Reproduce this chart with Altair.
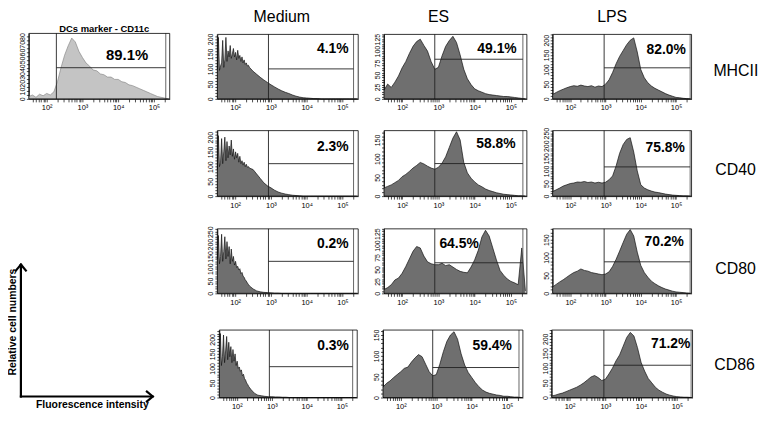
import altair as alt
import pandas as pd

# ---------------- data ----------------
EXPONENTS = [1.5, 1.6, 1.7, 1.8, 1.9, 2.0, 2.1, 2.2, 2.3, 2.4,
             2.5, 2.6, 2.7, 2.8, 2.9, 3.0, 3.1, 3.2, 3.3, 3.4,
             3.5, 3.6, 3.7, 3.8, 3.9, 4.0, 4.1, 4.2, 4.3, 4.4,
             4.5, 4.6, 4.7, 4.8, 4.9, 5.0, 5.1, 5.2, 5.3, 5.4]
# finer grid used for the spiky "Medium" histograms
MED_EXPONENTS = [1.50, 1.53, 1.56, 1.59, 1.62, 1.65, 1.68, 1.71, 1.74, 1.77,
                 1.80, 1.83, 1.86, 1.89, 1.92, 1.95, 1.98, 2.01, 2.04, 2.07,
                 2.10, 2.13, 2.16, 2.19, 2.22, 2.25, 2.28, 2.31, 2.34, 2.37, 2.40,
                 2.5, 2.6, 2.7, 2.8, 2.9, 3.0, 3.1, 3.2, 3.3, 3.4,
                 3.5, 3.6, 3.7, 3.8, 3.9, 4.0, 4.1, 4.2, 4.3, 4.4,
                 4.5, 4.6, 4.7, 4.8, 4.9, 5.0, 5.1, 5.2, 5.3, 5.4]

CD11C = [3, 5, 2, 6, 4, 7, 5, 9, 22, 40, 56, 68, 78, 73, 61, 53, 46, 42, 37, 36,
         32, 31, 28, 28, 25, 25, 22, 21, 18, 17, 15, 13, 11, 9, 7, 5, 3, 2, 1, 0]

MED_MHCII = [100, 205, 95, 110, 120, 195, 105, 130, 205, 125, 160, 140, 178, 135, 150, 168,
             140, 155, 130, 162, 135, 145, 125, 140, 120, 130, 115, 120, 110, 112, 105,
             92, 82, 72, 63, 55, 47, 40, 33, 27, 22, 18, 13, 9, 6, 4, 3, 2, 1, 1, 0,
             0, 0, 0, 0, 0, 0, 0, 0, 0, 0]
ES_MHCII = [18, 31, 24, 35, 48, 65, 78, 95, 110, 120, 125, 112, 100, 78, 62, 66, 90, 110, 122, 131,
            118, 92, 62, 42, 30, 21, 17, 14, 11, 9, 8, 7, 6, 5, 5, 4, 3, 2, 1, 0]
LPS_MHCII = [15, 22, 28, 33, 38, 42, 45, 43, 47, 44, 42, 45, 40, 44, 42, 50, 65, 90, 120, 145,
             165, 185, 200, 208, 160, 100, 72, 55, 44, 36, 30, 24, 18, 13, 9, 5, 4, 2, 1, 0]

MED_CD40 = [90, 205, 100, 115, 195, 110, 150, 200, 120, 185, 130, 170, 140, 190, 135, 160,
            125, 150, 130, 145, 115, 135, 110, 120, 105, 115, 100, 108, 98, 100, 95,
            90, 75, 60, 45, 35, 28, 20, 14, 10, 7, 5, 3, 2, 1, 0,
            0, 0, 0, 0, 0, 0, 0, 0, 0, 0, 0, 0, 0, 0, 0]
ES_CD40 = [22, 26, 30, 36, 42, 52, 58, 66, 75, 82, 90, 86, 80, 75, 72, 77, 88, 105, 130, 155,
           172, 150, 90, 62, 48, 38, 30, 25, 19, 15, 12, 9, 7, 5, 4, 3, 2, 1, 1, 0]
LPS_CD40 = [18, 25, 32, 40, 45, 50, 52, 56, 55, 58, 54, 56, 52, 55, 52, 55, 65, 80, 120, 170,
            205, 225, 232, 175, 100, 45, 32, 25, 20, 16, 14, 11, 8, 6, 4, 3, 2, 1, 1, 0]

MED_CD80 = [140, 235, 120, 150, 240, 130, 170, 230, 140, 210, 150, 190, 120, 180, 130, 150,
            115, 130, 105, 110, 95, 100, 80, 85, 70, 65, 55, 50, 42, 36, 30,
            18, 10, 6, 4, 3, 2, 1, 1, 0, 0, 0, 0, 0, 0, 0,
            0, 0, 0, 0, 0, 0, 0, 0, 0, 0, 0, 0, 0, 0, 0]
ES_CD80 = [8, 12, 18, 28, 32, 42, 56, 72, 88, 98, 95, 78, 66, 62, 60, 60, 63, 58, 60, 55,
           50, 46, 44, 43, 55, 70, 90, 118, 132, 120, 95, 70, 48, 38, 30, 25, 22, 18, 95, 5]
LPS_CD80 = [18, 25, 32, 38, 45, 52, 58, 62, 68, 64, 62, 58, 56, 54, 52, 54, 60, 75, 95, 118,
            142, 165, 178, 160, 115, 78, 58, 45, 34, 27, 21, 16, 12, 9, 6, 4, 3, 2, 1, 0]

MED_CD86 = [130, 220, 110, 140, 215, 120, 160, 210, 130, 190, 140, 175, 120, 165, 125, 150,
            110, 125, 100, 105, 90, 95, 75, 80, 65, 60, 50, 45, 38, 33, 28,
            15, 8, 6, 4, 3, 3, 2, 2, 1, 1, 0, 0, 0, 0, 0,
            0, 0, 0, 0, 0, 0, 0, 0, 0, 0, 0, 0, 0, 0, 0]
ES_CD86 = [25, 34, 40, 48, 55, 62, 70, 73, 85, 95, 103, 98, 80, 62, 52, 55, 80, 110, 135, 150,
           158, 140, 105, 78, 60, 48, 36, 26, 18, 13, 10, 8, 6, 5, 3, 3, 2, 1, 1, 0]
LPS_CD86 = [5, 8, 12, 15, 20, 25, 30, 35, 42, 50, 60, 70, 75, 68, 58, 62, 80, 100, 125, 145,
            175, 205, 222, 210, 170, 120, 90, 65, 50, 35, 25, 18, 12, 8, 5, 3, 2, 1, 1, 0]

PERCENTS = ["89.1%", "4.1%", "49.1%", "82.0%", "2.3%", "58.8%", "75.8%",
            "0.2%", "64.5%", "70.2%", "0.3%", "59.4%", "71.2%"]
COLUMNS = ["Medium", "ES", "LPS"]
MARKERS = ["MHCII", "CD40", "CD80", "CD86"]

XTICKS = [40, 50, 60, 70, 80, 90,
          100, 200, 300, 400, 500, 600, 700, 800, 900,
          1000, 2000, 3000, 4000, 5000, 6000, 7000, 8000, 9000,
          10000, 20000, 30000, 40000, 50000, 60000, 70000, 80000, 90000,
          100000, 200000]

# ---------------- layout / style ----------------
FONT = "Liberation Sans"
W, H = 759, 405
OFF = 8  # page margin
XMIN, XMAX = 10 ** 1.5, 10 ** 5.44
XLABEL_EXPR = ("datum.value == 100 ? '10²' : datum.value == 1000 ? '10³' : "
               "datum.value == 10000 ? '10⁴' : datum.value == 100000 ? '10⁵' : ''")

COLX = {"Medium": (219, 361), "ES": (387, 531), "LPS": (557, 697)}
COLX_ROW4 = {"Medium": (221, 360), "ES": (386, 527), "LPS": (556, 698)}
ROWY = {"MHCII": (33, 98), "CD40": (130, 196), "CD80": (229, 294), "CD86": (331, 399)}
GATES = {"Medium": (2.93, 5.31), "ES": (2.9, 5.33), "LPS": (2.96, 5.4)}

# (counts, ymax, major, minor, gate height, label log-x, label frac-y, align)
SPECS = {
    ("MHCII", "Medium"): (MED_MHCII, 215, 50, 10, 100, 5.17, 0.78, "right"),
    ("MHCII", "ES"): (ES_MHCII, 135, 25, 5, 83, 5.16, 0.78, "right"),
    ("MHCII", "LPS"): (LPS_MHCII, 220, 50, 10, 106, 5.28, 0.75, "right"),
    ("CD40", "Medium"): (MED_CD40, 222, 50, 10, 110, 5.17, 0.75, "right"),
    ("CD40", "ES"): (ES_CD40, 175, 50, 10, 87, 5.13, 0.79, "right"),
    ("CD40", "LPS"): (LPS_CD40, 260, 50, 10, 116, 5.25, 0.73, "right"),
    ("CD80", "Medium"): (MED_CD80, 262, 50, 10, 130, 5.17, 0.76, "right"),
    ("CD80", "ES"): (ES_CD80, 135, 25, 5, 64, 3.57, 0.77, "center"),
    ("CD80", "LPS"): (LPS_CD80, 180, 50, 10, 88, 5.22, 0.79, "right"),
    ("CD86", "Medium"): (MED_CD86, 232, 50, 10, 106, 5.2, 0.77, "right"),
    ("CD86", "ES"): (ES_CD86, 162, 50, 10, 72, 5.13, 0.77, "right"),
    ("CD86", "LPS"): (LPS_CD86, 230, 50, 10, 110, 5.38, 0.8, "right"),
}

ONE = pd.DataFrame({"k": [0]})


def panel(exps, counts, ymax, major, minor, box, gate_lo, gate_hi, gate_h, label,
          lab_x, lab_y, align, fill, outline, lab_size=14):
    """Returns a flat list of layers for one histogram panel."""
    x0, x1, yt, yb = box
    xs = alt.Scale(type="log", domain=[XMIN, XMAX], range=[x0 - OFF, x1 - OFF], nice=False)
    ys = alt.Scale(type="linear", domain=[0, ymax], range=[yb - OFF, yt - OFF],
                   nice=False, zero=False)
    xaxis = alt.Axis(orient="bottom", offset=(yb - OFF) - H, values=XTICKS,
                     labelExpr=XLABEL_EXPR, title=None, grid=False,
                     domainColor="black", domainWidth=0.8, tickColor="black",
                     tickSize=3, tickWidth=0.7, labelFontSize=7.5, labelFont=FONT,
                     labelColor="black", labelPadding=2, labelFlush=False,
                     labelOverlap=False)
    yticks = list(range(0, int(ymax) + 1, minor))
    yaxis = alt.Axis(orient="left", offset=-(x0 - OFF), values=yticks,
                     labelExpr=f"datum.value % {major} === 0 ? datum.label : ''",
                     title=None, grid=False, domainColor="black", domainWidth=0.8,
                     tickColor="black", tickSize=2.5, tickWidth=0.7,
                     labelFontSize=7, labelFont=FONT, labelColor="black",
                     labelAngle=270, labelAlign="center", labelBaseline="bottom",
                     labelPadding=1, labelFlush=False, labelOverlap=False)
    df = pd.DataFrame({"fl": [10 ** e for e in exps], "n": counts})
    area = alt.Chart(df).mark_area(color=fill, interpolate="linear").encode(
        x=alt.X("fl:Q", scale=xs, axis=xaxis),
        y=alt.Y("n:Q", scale=ys, axis=yaxis))
    line = alt.Chart(df).mark_line(color=outline, strokeWidth=0.7, interpolate="linear").encode(
        x=alt.X("fl:Q", scale=xs, axis=None),
        y=alt.Y("n:Q", scale=ys, axis=None))

    def X(v):
        return alt.X(datum=v, type="quantitative", scale=xs, axis=None)

    def Y(v):
        return alt.Y(datum=v, type="quantitative", scale=ys, axis=None)

    frame = alt.Chart(ONE).mark_rect(fillOpacity=0, stroke="black", strokeWidth=0.8).encode(
        x=X(XMIN), x2=alt.X2(datum=XMAX), y=Y(0), y2=alt.Y2(datum=ymax))
    vlo = alt.Chart(ONE).mark_rule(color="#222222", strokeWidth=0.9).encode(
        x=X(gate_lo), y=Y(0), y2=alt.Y2(datum=ymax))
    vhi = alt.Chart(ONE).mark_rule(color="#555555", strokeWidth=0.9).encode(
        x=X(gate_hi), y=Y(0), y2=alt.Y2(datum=ymax))
    hg = alt.Chart(ONE).mark_rule(color="#222222", strokeWidth=0.9).encode(
        x=X(gate_lo), x2=alt.X2(datum=gate_hi), y=Y(gate_h))
    txt = alt.Chart(ONE).mark_text(
        font=FONT, fontSize=lab_size, fontWeight="bold", color="black",
        align=align, baseline="middle",
    ).encode(x=X(lab_x), y=Y(lab_y * ymax), text=alt.value(label))
    return [area, line, vlo, vhi, hg, frame, txt]


layers = []
# top-left CD11c panel
layers += panel(EXPONENTS, CD11C, 84, 10, 5, (29, 171, 32, 98), 10 ** 2.27, 10 ** 5.33, 40,
                PERCENTS[0], 10 ** 4.25, 0.67, "center", "#c4c4c4", "#8a8a8a", 15)

i = 1
for m in MARKERS:
    for c in COLUMNS:
        counts, ymax, major, minor, gh, lx, ly, al = SPECS[(m, c)]
        x0, x1 = (COLX_ROW4 if m == "CD86" else COLX)[c]
        yt, yb = ROWY[m]
        glo, ghi = GATES[c]
        exps = MED_EXPONENTS if c == "Medium" else EXPONENTS
        layers += panel(exps, counts, ymax, major, minor, (x0, x1, yt, yb),
                        10 ** glo, 10 ** ghi, gh, PERCENTS[i], 10 ** lx, ly, al,
                        "#6f6f6f", "#111111")
        i += 1


def text_at(s, px, py, size, weight="normal", angle=0, align="center"):
    return alt.Chart(pd.DataFrame({"t": [s]})).mark_text(
        font=FONT, fontSize=size, fontWeight=weight, angle=angle, align=align,
        baseline="middle", color="black",
    ).encode(x=alt.value(px - OFF), y=alt.value(py - OFF), text="t:N")


def seg(xa, ya, xb, yb, w=2.2):
    return alt.Chart(ONE).mark_rule(color="black", strokeWidth=w, strokeCap="square").encode(
        x=alt.value(xa - OFF), x2=alt.value(xb - OFF), y=alt.value(ya - OFF), y2=alt.value(yb - OFF))


# titles
layers.append(text_at("DCs marker - CD11c", 105, 28, 9.5, "bold"))
for name, cx in zip(COLUMNS, [284, 442, 617]):
    layers.append(text_at(name, cx, 16, 16))
for name, cx, cy in zip(MARKERS, [719, 721, 721, 720], [70, 170, 270, 366]):
    layers.append(text_at(name, cx, cy, 16, align="left"))

# axis-explanation arrows
layers += [
    seg(21, 266, 21, 398), seg(21, 398, 153, 398),
    seg(21, 265, 16, 271), seg(21, 265, 26, 271),
    seg(154, 398, 148, 393), seg(154, 398, 148, 403),
]
layers.append(text_at("Relative cell numbers", 13, 323, 10.5, "bold", angle=270))
layers.append(text_at("Fluorescence intensity", 93, 407, 10.5, "bold"))

chart = alt.layer(*layers).resolve_scale(
    x="independent", y="independent"
).resolve_axis(
    x="independent", y="independent"
).properties(
    width=W, height=H, padding=0, autosize=alt.AutoSizeParams(type="none")
).configure_view(stroke=None)

chart.save("out.html", embed_options={"renderer": "svg", "actions": False})
